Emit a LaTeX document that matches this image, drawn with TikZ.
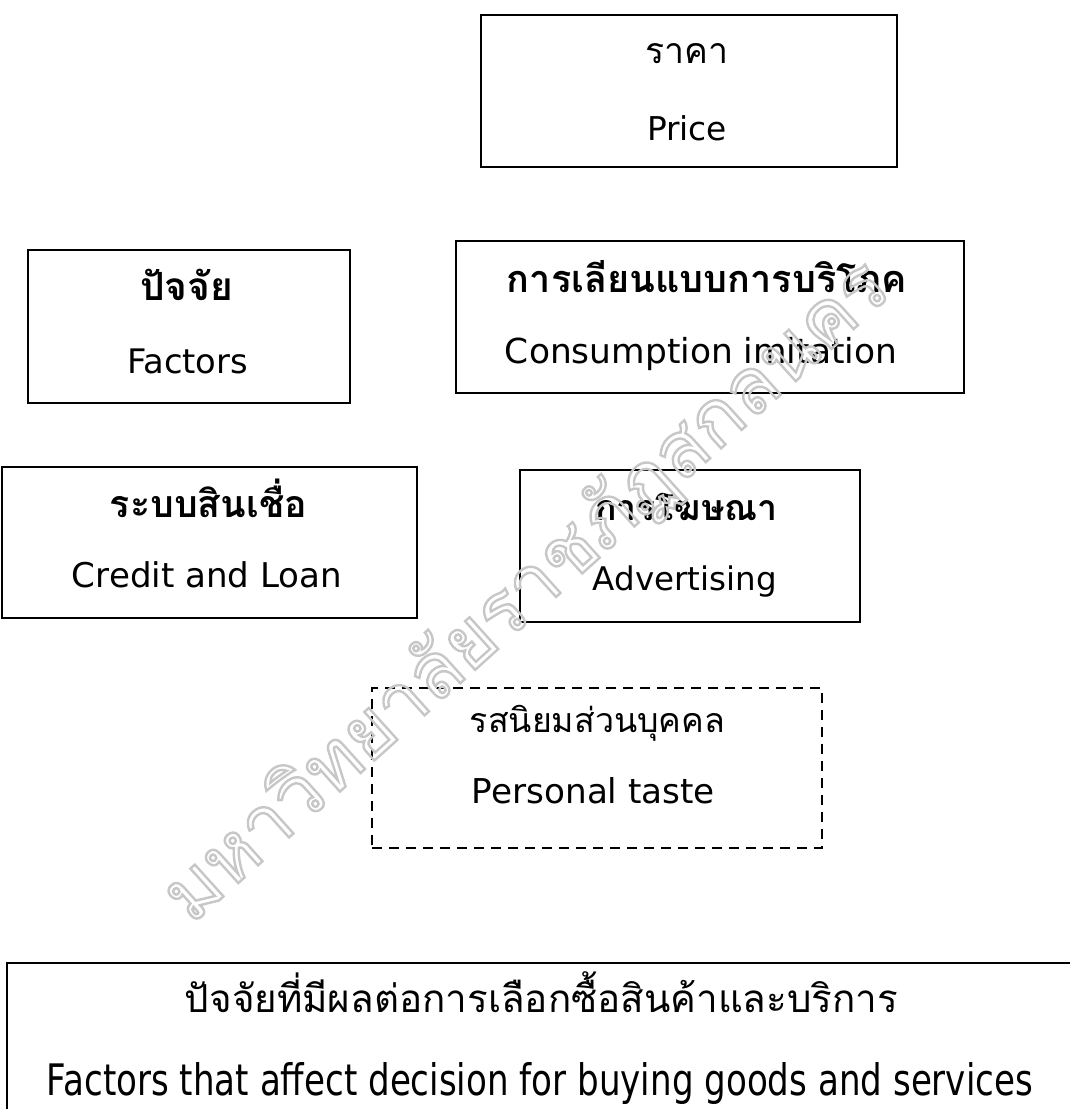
\documentclass[tikz,border=0pt]{standalone}
\usepackage{graphicx}
\usepackage{fontspec}
\setmainfont{Loma}[Script=Thai]
\newfontfamily\latf{DejaVu Sans}
\newcommand\fw[2]{\resizebox{#1pt}{!}{#2}}
\begin{document}
\begin{tikzpicture}[x=1pt,y=-1pt,
  box/.style={draw,line width=2.2pt,inner sep=0pt,anchor=north west},
  lbl/.style={anchor=base,inner sep=0pt,font=\fontsize{30}{36}\latf},
  th/.style={anchor=base,inner sep=0pt,font=\fontsize{30}{36}\selectfont},
  thb/.style={anchor=base,inner sep=0pt,font=\fontsize{30}{36}\selectfont\bfseries},
  wm/.style={inner sep=0pt,text=black!22,font=\fontsize{77}{85}\selectfont}]
\useasboundingbox (0,0) rectangle (1070,1109);
% boxes
\node[box,minimum width=416pt,minimum height=152pt] (bprice) at (480,14) {};
\node[box,minimum width=322pt,minimum height=153pt] (bfact) at (27,249) {};
\node[box,minimum width=508pt,minimum height=152pt] (bcons) at (455,240) {};
\node[box,minimum width=415pt,minimum height=151pt] (bcred) at (1,466) {};
\node[box,minimum width=340pt,minimum height=152pt] (badv) at (519,469) {};
\node[box,dashed,dash pattern=on 10pt off 7pt,minimum width=450pt,minimum height=160pt] (btaste) at (371,687) {};
\node[box,minimum width=1100pt,minimum height=200pt] (bmain) at (6,962) {};
% labels
\node[th] (tprice) at (686.5,63) {\fw{83}{ราคา}};
\node[lbl] (eprice) at (687,140) {\fw{80}{Price}};
\node[thb] (tfact) at (186.5,300) {\fw{93}{ปัจจัย}};
\node[lbl] (efact) at (187.5,373) {\fw{121}{Factors}};
\node[thb] (tcons) at (707,292) {\fw{400}{การเลียนแบบการบริโภค}};
\node[lbl] (econs) at (701,363) {\fw{392}{Consumption imitation}};
\node[thb] (tcred) at (208.5,517) {\fw{197}{ระบบสินเชื่อ}};
\node[lbl] (ecred) at (207,587) {\fw{270}{Credit and Loan}};
\node[thb] (tadv) at (686.5,520) {\fw{183}{การโฆษณา}};
\node[lbl] (eadv) at (685,590) {\fw{184}{Advertising}};
\node[th] (ttaste) at (597.5,732) {\fw{255}{รสนิยมส่วนบุคคล}};
\node[lbl] (etaste) at (593.5,803) {\fw{243}{Personal taste}};
\node[th] (tmain) at (541.5,1012) {\fw{713}{ปัจจัยที่มีผลต่อการเลือกซื้อสินค้าและบริการ}};
\node[lbl] (emain) at (540,1095) {\resizebox{986pt}{33pt}{Factors that affect decision for buying goods and services}};
% watermark
\node[wm,rotate=42] (water) at (527,592) {\special{pdf:literal direct 1 Tr 2.4 w}มหาวิทยาลัยราชภัฏสกลนคร\special{pdf:literal direct 0 Tr}};
\end{tikzpicture}
\end{document}
